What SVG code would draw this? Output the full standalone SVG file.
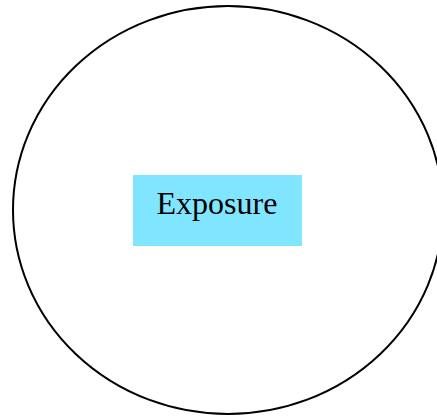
<svg xmlns="http://www.w3.org/2000/svg" width="437" height="419" viewBox="0 0 437 419">
<style>
.outline{fill:none;stroke:#000;stroke-width:2}
.box{fill:#80e5ff}
.label{font-family:"Liberation Serif",serif;font-size:32px;fill:#000;text-anchor:middle}
</style>
<rect width="437" height="419" fill="#fff"/>
<g id="circle"><ellipse class="outline" cx="228" cy="210" rx="215" ry="204"/></g>
<g id="exposure">
<rect class="box" x="133" y="175" width="169" height="71"/>
<text class="label" x="217" y="214">Exposure</text>
</g>
<g id="connectors"></g>
</svg>
